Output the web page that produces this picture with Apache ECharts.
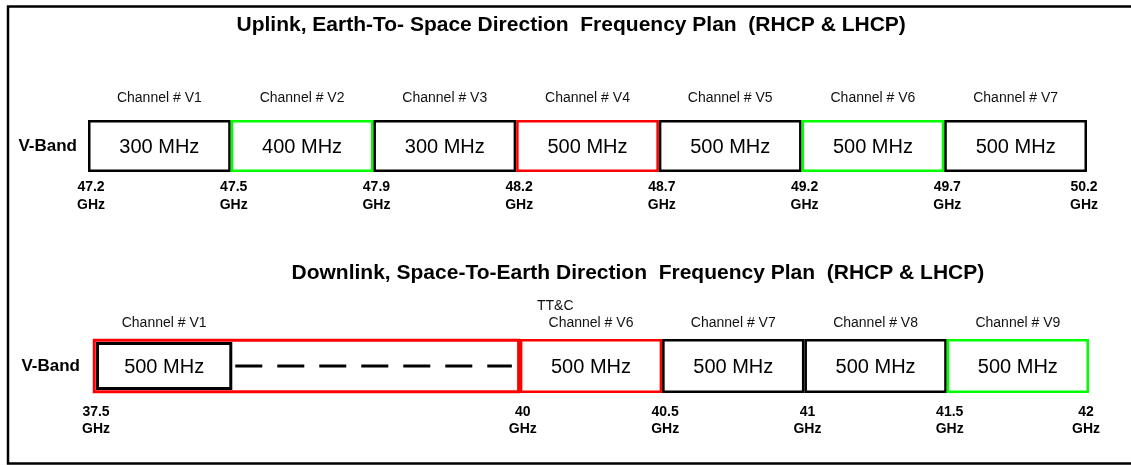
<!DOCTYPE html>
<html>
<head>
<meta charset="utf-8">
<title>V-Band Frequency Plan</title>
<script src="https://cdn.jsdelivr.net/npm/echarts@6.0.0/dist/echarts.min.js"></script>
<style>
    html, body { margin: 0; padding: 0; background: #fff; }
    #j-chart { width: 1131px; height: 465px; }
</style>
</head>
<body>
<div id="j-chart"></div>
<script>
// uplink (Earth-to-space): one slot per channel
var upChannels = ['V1', 'V2', 'V3', 'V4', 'V5', 'V6', 'V7'];
var upBandwidth = [300, 400, 300, 500, 500, 500, 500]; // MHz
var upEdges = [47.2, 47.5, 47.9, 48.2, 48.7, 49.2, 49.7, 50.2]; // GHz
var upGroup = [0, 1, 0, 2, 0, 1, 0];

// downlink (space-to-earth): V2..V5 are not drawn, two empty slots stand for them
var downSlots = ['V1', '', '', 'V6', 'V7', 'V8', 'V9'];
var downChannels = ['V1', 'V6', 'V7', 'V8', 'V9'];
var downBandwidth = [500, 500, 500, 500, 500]; // MHz
var downEdges = [37.5, 40, 40.5, 41, 41.5, 42]; // GHz
var downGroup = [0, 2, 0, 0, 1];
var downNote = ['', 'TT&C', '', '', ''];

var bandName = 'V-Band';
var upTitle = 'Uplink, Earth-To- Space Direction  Frequency Plan  (RHCP & LHCP)';
var downTitle = 'Downlink, Space-To-Earth Direction  Frequency Plan  (RHCP & LHCP)';

(function () {
    var FONT = '"Liberation Sans", Arial, sans-serif';
    var groupColor = ['#000000', '#00ff00', '#ff0000'];
    var LW = 2.5;

    var slotOf = function (slots, channels) {
        return channels.map(function (c) { return slots.indexOf(c); });
    };
    var upSlotIdx = upChannels.map(function (c, i) { return i; });
    var downSlotIdx = slotOf(downSlots, downChannels);

    // renderItem factory, one per panel
    var makeRender = function (channels, bandwidth, edges, groups, slotIdx, edgeTop, edgeLine) {
        return function (params, api) {
            var i = params.dataIndex;
            var slot = api.value(0);
            var c = api.coord([slot, 0]);
            var band = api.size([1, 1]);
            var x0 = c[0] - band[0] / 2, x1 = c[0] + band[0] / 2;
            var y0 = c[1] - band[1] / 2, y1 = c[1] + band[1] / 2;
            var kids = [];
            var inset = LW / 2;

            var next = i + 1 < channels.length ? slotIdx[i + 1] : null;
            if (next !== null && next > slot + 1) {
                // hidden channels: outer frame + dashed line up to the next drawn channel
                var nx = api.coord([next, 0])[0] - band[0] / 2;
                kids.push({
                    type: 'rect',
                    shape: { x: x0 + LW / 2, y: y0 + LW / 2, width: nx - x0 - LW, height: y1 - y0 - LW },
                    style: { fill: null, stroke: groupColor[groups[i + 1]], lineWidth: LW + 0.5 }
                });
                kids.push({
                    type: 'line',
                    shape: { x1: x1, y1: c[1], x2: nx - 8, y2: c[1] },
                    style: { stroke: '#000', lineWidth: 3, lineDash: [27, 15] }
                });
                inset = 4.5;
            }

            kids.push({
                type: 'rect',
                shape: { x: x0 + inset, y: y0 + inset, width: x1 - x0 - inset * 2, height: y1 - y0 - inset * 2 },
                style: { fill: '#fff', stroke: groupColor[groups[i]], lineWidth: LW + (inset > 2 ? 0.5 : 0) }
            });
            kids.push({
                type: 'text',
                style: {
                    text: bandwidth[i] + ' MHz', x: c[0], y: c[1] + 1,
                    align: 'center', verticalAlign: 'middle',
                    fontSize: 20, fontFamily: FONT, fill: '#000'
                }
            });

            var edgeText = function (x, v) {
                return {
                    type: 'text',
                    style: {
                        text: v + '\nGHz', x: x + 3, y: y1 + edgeTop,
                        align: 'center', verticalAlign: 'top',
                        fontSize: 14, fontWeight: 'bold', fontFamily: FONT,
                        lineHeight: edgeLine, fill: '#000'
                    }
                };
            };
            kids.push(edgeText(x0, edges[i]));
            if (i === channels.length - 1) {
                kids.push(edgeText(x1 - 6, edges[i + 1]));
            }
            return { type: 'group', children: kids };
        };
    };

    var catX = function (grid, data, margin, extra) {
        var ax = {
            type: 'category',
            gridIndex: grid,
            position: 'top',
            data: data,
            boundaryGap: true,
            axisLine: { show: false },
            axisTick: { show: false },
            splitLine: { show: false },
            axisLabel: {
                interval: 0,
                margin: margin,
                fontSize: 14,
                fontFamily: FONT,
                color: '#111'
            }
        };
        if (extra) {
            for (var k in extra) { ax.axisLabel[k] = extra[k]; }
        }
        return ax;
    };
    var catY = function (grid, margin) {
        return {
            type: 'category',
            gridIndex: grid,
            data: [bandName],
            axisLine: { show: false },
            axisTick: { show: false },
            splitLine: { show: false },
            axisLabel: {
                margin: margin,
                fontSize: 17,
                fontWeight: 'bold',
                fontFamily: FONT,
                color: '#000'
            }
        };
    };

    var option = {
        backgroundColor: '#fff',
        animation: false,
        title: [
            {
                text: upTitle, left: '50.5%', top: 15, textAlign: 'center', padding: 0,
                textStyle: { fontSize: 21, fontWeight: 'bold', fontFamily: FONT, color: '#000' }
            },
            {
                text: downTitle, left: '56.4%', top: 263, textAlign: 'center', padding: 0,
                textStyle: { fontSize: 21, fontWeight: 'bold', fontFamily: FONT, color: '#000' }
            }
        ],
        graphic: [{
            type: 'rect',
            shape: { x: 8, y: 6.5, width: 1200, height: 457 },
            style: { fill: null, stroke: '#000', lineWidth: 2.5 },
            silent: true
        }],
        grid: [
            { left: 88, right: 44, top: 120, height: 52 },
            { left: 93, right: 42, top: 339, height: 54 }
        ],
        xAxis: [
            catX(0, upChannels.map(function (c) { return 'Channel # ' + c; }), 15),
            catX(1, downSlots, 7, {
                lineHeight: 17,
                formatter: function (v) {
                    if (!v) { return ''; }
                    var note = downNote[downChannels.indexOf(v)];
                    var name = 'Channel # ' + v;
                    return note ? '{t|' + note + '}\n' + name : name;
                },
                rich: {
                    t: { width: 108, align: 'left', fontSize: 14, fontFamily: FONT, color: '#111', lineHeight: 17 }
                }
            })
        ],
        yAxis: [catY(0, 11), catY(1, 13)],
        series: [
            {
                type: 'custom',
                xAxisIndex: 0,
                yAxisIndex: 0,
                clip: false,
                renderItem: makeRender(upChannels, upBandwidth, upEdges, upGroup, upSlotIdx, 6, 18),
                data: upSlotIdx.map(function (s) { return [s, 0]; }),
                encode: { x: 0, y: 1 }
            },
            {
                type: 'custom',
                xAxisIndex: 1,
                yAxisIndex: 1,
                clip: false,
                renderItem: makeRender(downChannels, downBandwidth, downEdges, downGroup, downSlotIdx, 11, 17),
                data: downSlotIdx.map(function (s) { return [s, 0]; }),
                encode: { x: 0, y: 1 }
            }
        ]
    };

    var myChart = echarts.init(document.getElementById('j-chart'));
    myChart.setOption(option);
})();
</script>
</body>
</html>
